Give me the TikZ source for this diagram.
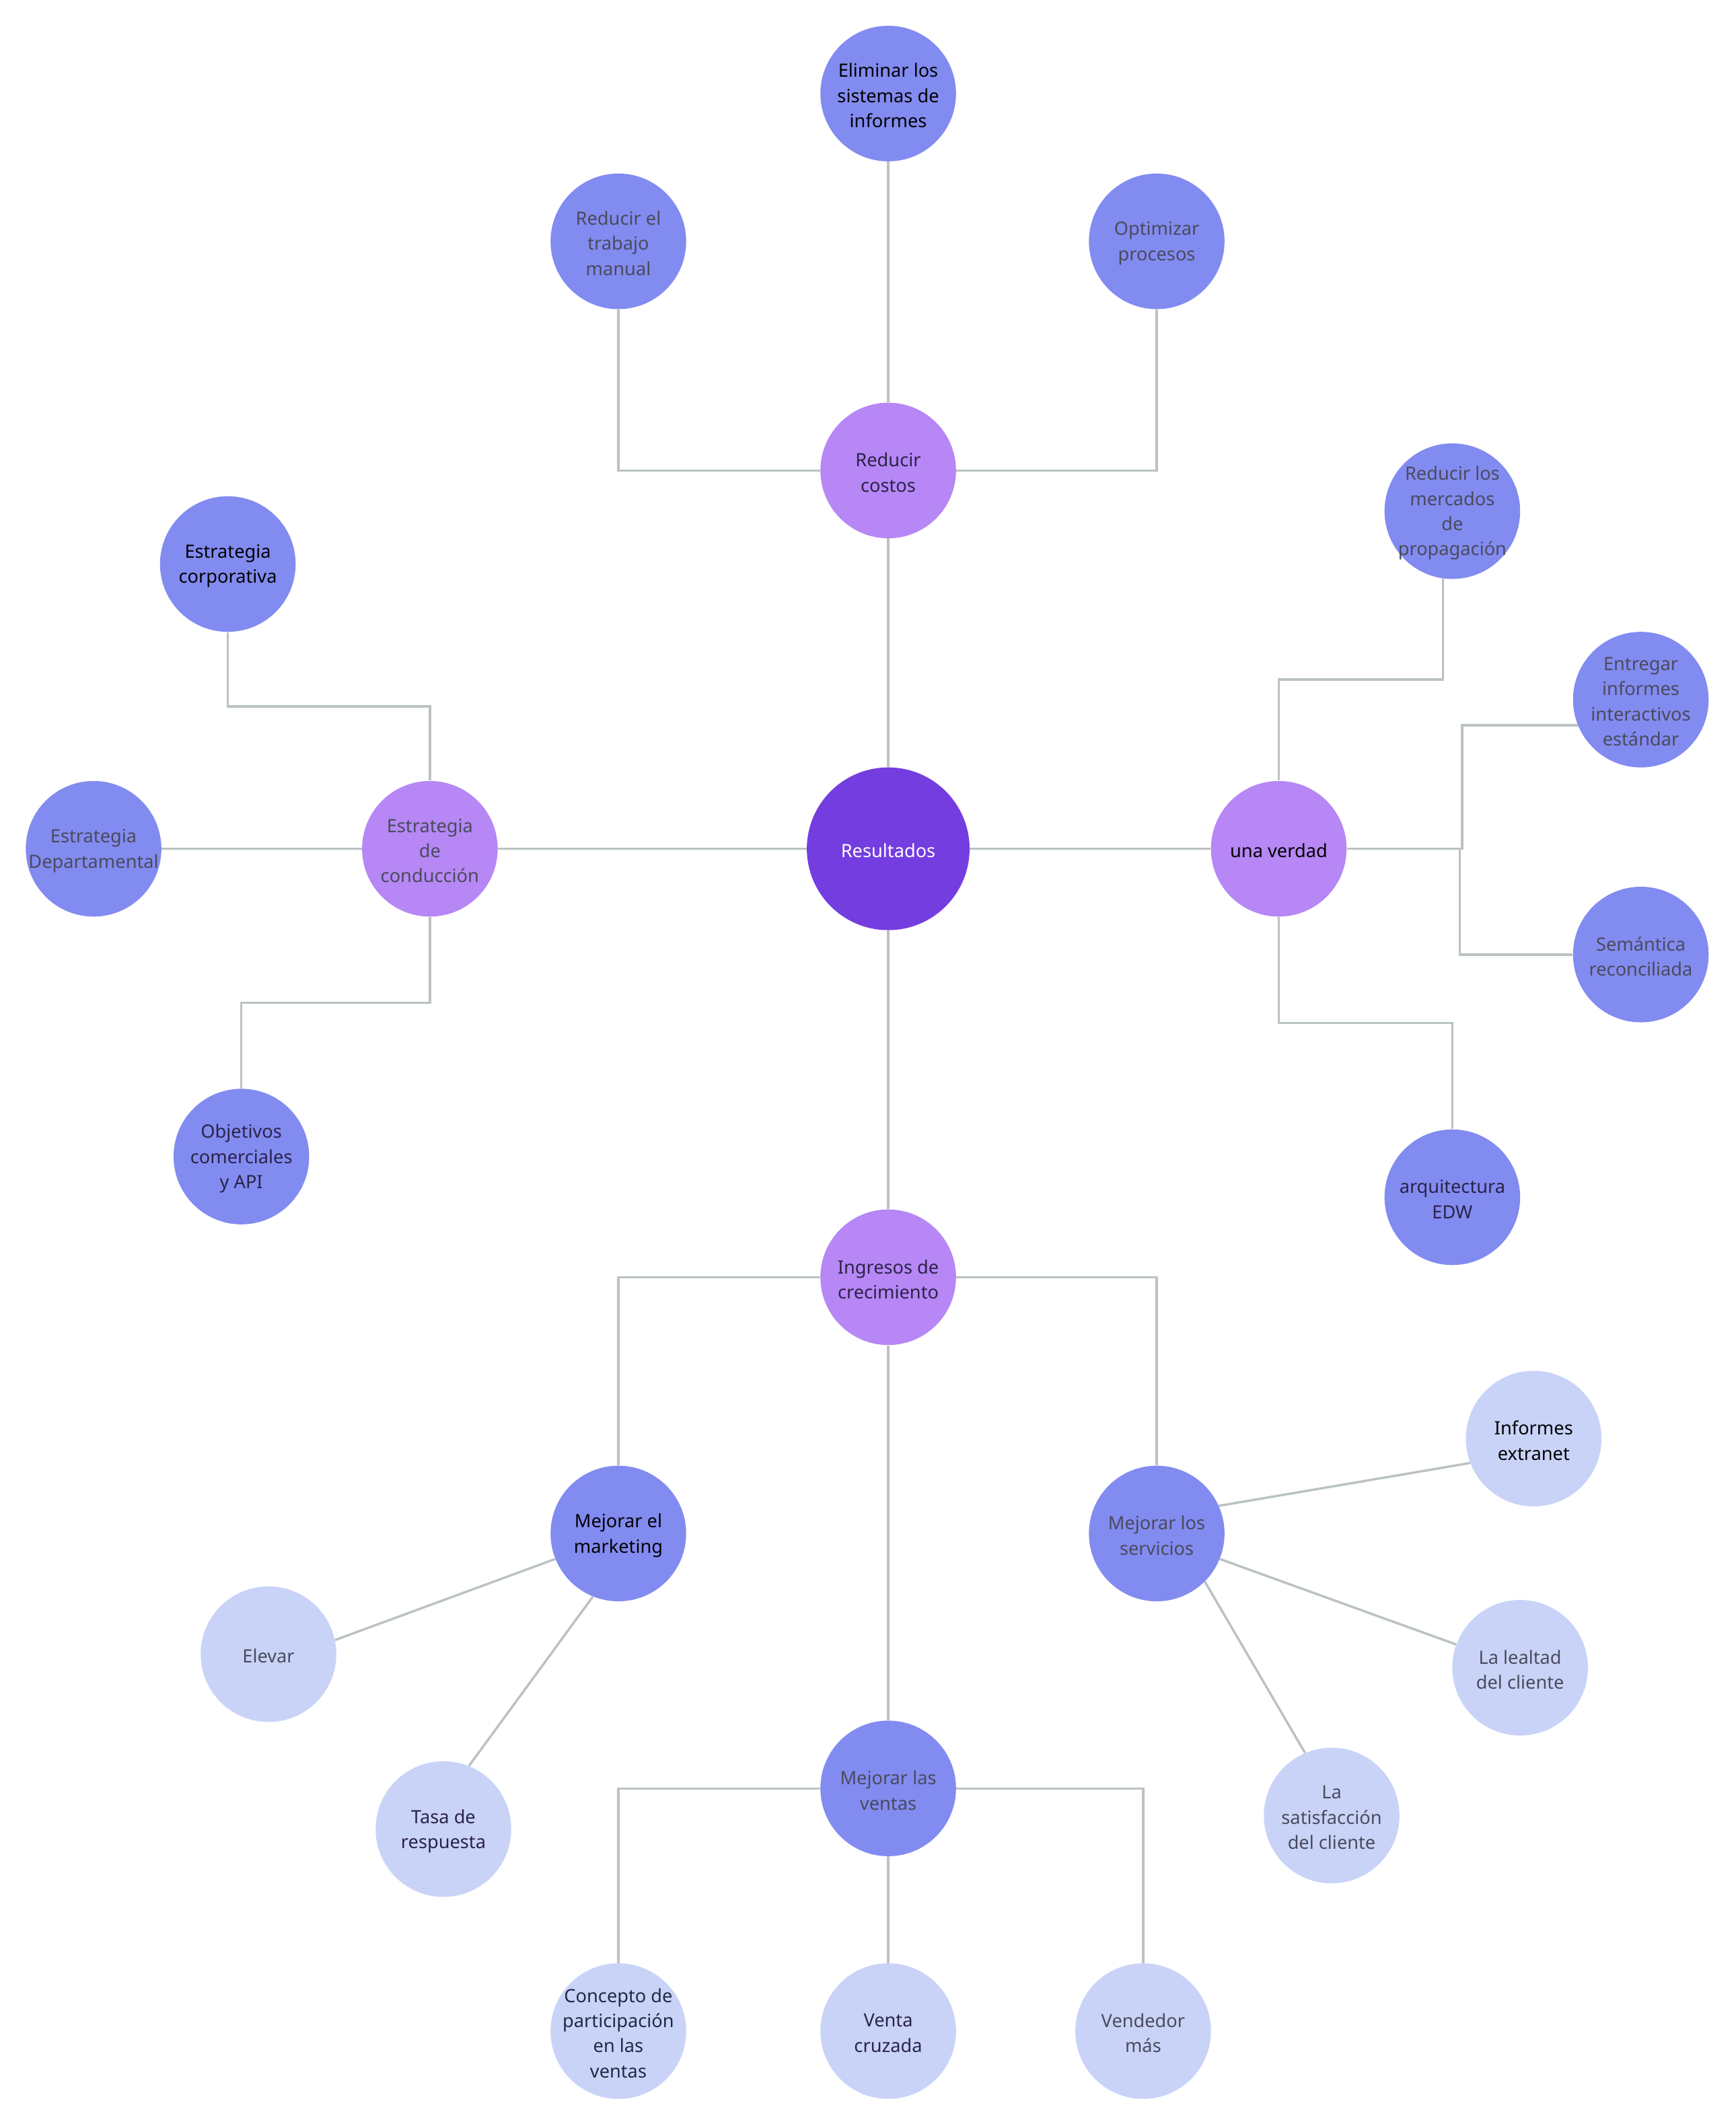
\documentclass[tikz,border=0pt]{standalone}
\usepackage{fontspec}
\setmainfont{Noto Sans}
\usetikzlibrary{calc}
\definecolor{cRoot}{HTML}{743DE0}
\definecolor{cMid}{HTML}{B687F5}
\definecolor{cBlue}{HTML}{828BF0}
\definecolor{cLight}{HTML}{C9D3F8}
\definecolor{cLine}{HTML}{BAC2C2}
\definecolor{tGray}{HTML}{4A4A5C}
\definecolor{tDark}{HTML}{2A2348}
\definecolor{tNavy}{HTML}{1E2A44}
\pgfdeclarelayer{background}
\pgfsetlayers{background,main}
\tikzset{
  bub/.style={circle, draw=none, inner sep=0pt, minimum size=100pt},
  rootbub/.style={bub, fill=cRoot, minimum size=120pt},
  midbub/.style={bub, fill=cMid},
  leafbub/.style={bub, fill=cBlue},
  lightbub/.style={bub, fill=cLight},
  txt/.style={font=\fontsize{13.5}{18.5}\selectfont, align=center, text=tGray, inner sep=0pt, yshift=-1.5pt},
  conn/.style={draw=cLine, line width=1.7pt},
}
\begin{document}
\begin{tikzpicture}[x=1pt,y=-1pt]
\useasboundingbox (0,0) rectangle (1280,1568);

% center and level 1
\node[rootbub, label={[txt,text=white]center:Resultados}] (res) at (655,626) {};
\node[midbub, label={[txt,text=tDark]center:Reducir\\costos}] (rc) at (655,347) {};
\node[midbub, label={[txt]center:Estrategia\\de\\conducción}] (ec) at (317,626) {};
\node[midbub, label={[txt,text=black]center:una verdad}] (uv) at (943,626) {};
\node[midbub, label={[txt,text=tDark]center:Ingresos de\\crecimiento}] (ig) at (655,942) {};

% reducir costos children
\node[leafbub, label={[txt,text=black]center:Eliminar los\\sistemas de\\informes}] (el) at (655,69) {};
\node[leafbub, label={[txt]center:Reducir el\\trabajo\\manual}] (rtm) at (456,178) {};
\node[leafbub, label={[txt]center:Optimizar\\procesos}] (op) at (853,178) {};

% estrategia children
\node[leafbub, label={[txt,text=black]center:Estrategia\\corporativa}] (corp) at (168,416) {};
\node[leafbub, label={[txt]center:Estrategia\\Departamental}] (dep) at (69,626) {};
\node[leafbub, label={[txt,text=tDark]center:Objetivos\\comerciales\\y API}] (obj) at (178,853) {};

% una verdad children
\node[leafbub, label={[txt]center:Reducir los\\mercados\\de\\propagación}] (rlm) at (1071,377) {};
\node[leafbub, label={[txt]center:Entregar\\informes\\interactivos\\estándar}] (ent) at (1210,516) {};
\node[leafbub, label={[txt]center:Semántica\\reconciliada}] (sem) at (1210,704) {};
\node[leafbub, label={[txt,text=tDark]center:arquitectura\\EDW}] (edw) at (1071,883) {};

% ingresos children
\node[leafbub, label={[txt,text=black]center:Mejorar el\\marketing}] (mk) at (456,1131) {};
\node[leafbub, label={[txt]center:Mejorar los\\servicios}] (sv) at (853,1131) {};
\node[leafbub, label={[txt]center:Mejorar las\\ventas}] (mv) at (655,1319) {};

% level 3
\node[lightbub, label={[txt]center:Elevar}] (ev) at (198,1220) {};
\node[lightbub, label={[txt,text=tDark]center:Tasa de\\respuesta}] (tr) at (327,1349) {};
\node[lightbub, label={[txt,text=black]center:Informes\\extranet}] (ie) at (1131,1061) {};
\node[lightbub, label={[txt]center:La lealtad\\del cliente}] (ll) at (1121,1230) {};
\node[lightbub, label={[txt]center:La\\satisfacción\\del cliente}] (ls) at (982,1339) {};
\node[lightbub, label={[txt,text=tNavy]center:Concepto de\\participación\\en las\\ventas}] (cp) at (456,1498) {};
\node[lightbub, label={[txt,text=tDark]center:Venta\\cruzada}] (vc) at (655,1498) {};
\node[lightbub, label={[txt]center:Vendedor\\más}] (vm) at (843,1498) {};

\begin{pgfonlayer}{background}
\fill[white] (0,0) rectangle (1280,1568);
% center
\draw[conn] (res.north) -- (rc.south);
\draw[conn] (res.west) -- (ec.east);
\draw[conn] (res.east) -- (uv.west);
\draw[conn] (res.south) -- (ig.north);
% reducir costos
\draw[conn] (rc.north) -- (el.south);
\draw[conn] (rc.west) -| (rtm.south);
\draw[conn] (rc.east) -| (op.south);
% estrategia
\draw[conn] let \p1=(ec.north), \p2=(corp.south) in
  (\p1) -- (\x1,{(\y1+\y2)/2}) -- (\x2,{(\y1+\y2)/2}) -- (\p2);
\draw[conn] (ec.west) -- (dep.east);
\draw[conn] let \p1=(ec.south), \p2=(obj.north) in
  (\p1) -- (\x1,{(\y1+\y2)/2}) -- (\x2,{(\y1+\y2)/2}) -- (\p2);
% una verdad
\draw[conn] let \p1=(uv.north), \p2=(rlm.262) in
  (\p1) -- (\x1,{(\y1+\y2)/2}) -- (\x2,{(\y1+\y2)/2}) -- (\p2);
\draw[conn] let \p1=(uv.east), \p2=(ent.202) in
  (\p1) -- ({(\x1+\x2)/2},\y1) -- ({(\x1+\x2)/2},\y2) -- (\p2);
\draw[conn] let \p1=(uv.east), \p2=(sem.west) in
  (\p1) -- ({(\x1+\x2)/2},\y1) -- ({(\x1+\x2)/2},\y2) -- (\p2);
\draw[conn] let \p1=(uv.south), \p2=(edw.north) in
  (\p1) -- (\x1,{(\y1+\y2)/2}) -- (\x2,{(\y1+\y2)/2}) -- (\p2);
% ingresos
\draw[conn] (ig.west) -| (mk.north);
\draw[conn] (ig.east) -| (sv.north);
\draw[conn] (ig.south) -- (mv.north);
% marketing
\draw[conn] (mk.202) -- (ev.12);
\draw[conn] (mk.248) -- (tr.68);
% servicios
\draw[conn] (sv.24) -- (ie.201);
\draw[conn] (sv.338) -- (ll.160);
\draw[conn] (sv.315) -- (ls.113);
% ventas
\draw[conn] (mv.west) -| (cp.north);
\draw[conn] (mv.south) -- (vc.north);
\draw[conn] (mv.east) -| (vm.north);
\end{pgfonlayer}
\end{tikzpicture}
\end{document}
